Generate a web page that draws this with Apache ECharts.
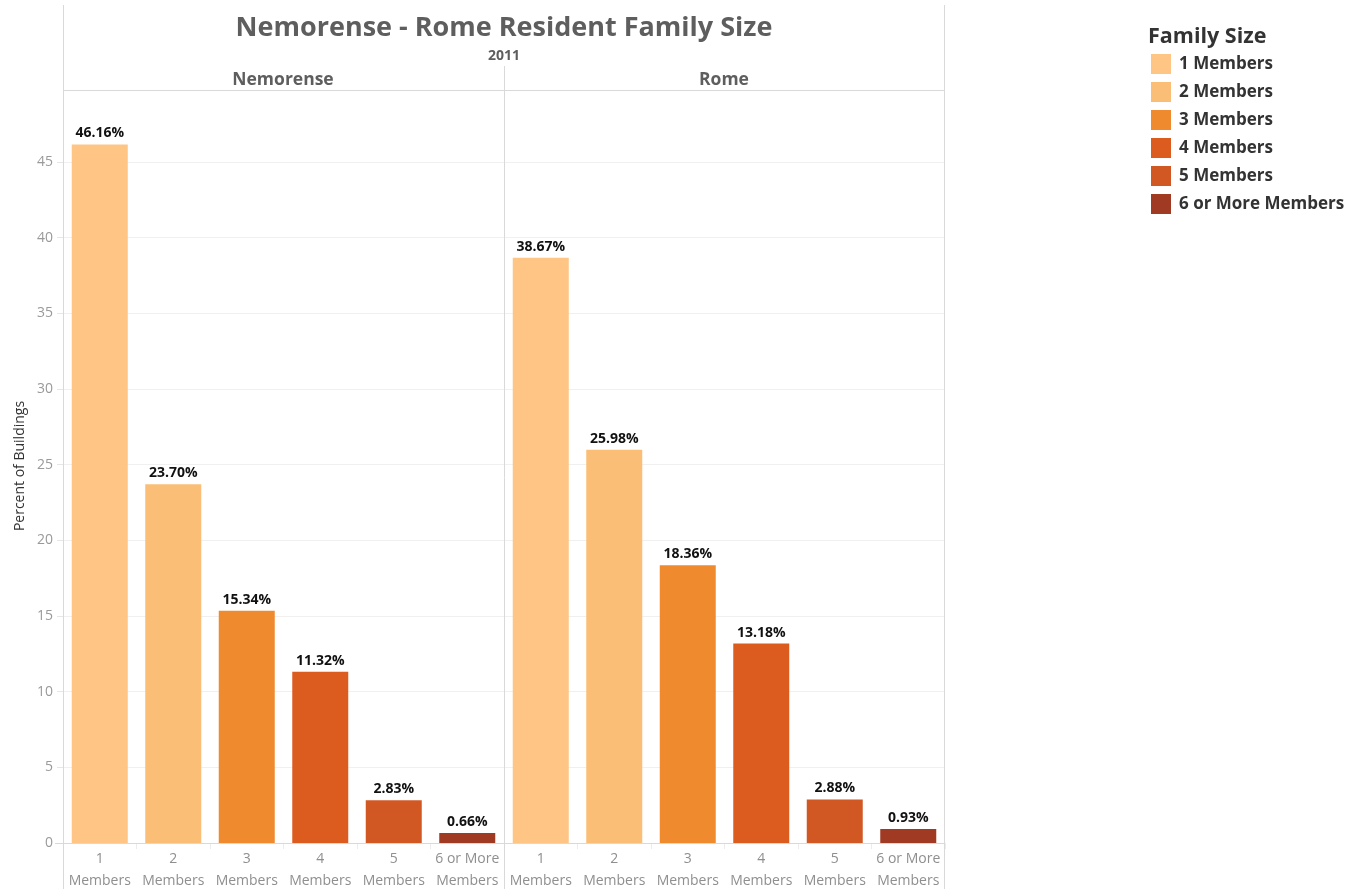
<!DOCTYPE html>
<html>
<head>
<meta charset="utf-8">
<script src="https://cdn.jsdelivr.net/npm/echarts@6/dist/echarts.min.js"></script>
<style>
  html, body { margin: 0; padding: 0; background: #fff; }
  #chart { width: 1368px; height: 889px; }
</style>
</head>
<body>
<div id="chart"></div>
<script>
// Family size categories and share of buildings (%), 2011
const categories = ['1 Members', '2 Members', '3 Members', '4 Members', '5 Members', '6 or More Members'];
const axisLabels = ['1\nMembers', '2\nMembers', '3\nMembers', '4\nMembers', '5\nMembers', '6 or More\nMembers'];
const panels = ['Nemorense', 'Rome'];
const nemorenseValues = [46.16, 23.70, 15.34, 11.32, 2.83, 0.66];
const romeValues = [38.67, 25.98, 18.36, 13.18, 2.88, 0.93];
const yTicks = [0, 5, 10, 15, 20, 25, 30, 35, 40, 45];
const colors = ['#FEC585', '#FBBE76', '#F08A2F', '#DC5C20', '#D25823', '#A03A23'];

const FONT = '"Open Sans", Lato, sans-serif';
const LINE = '#d9d9d9';
const HEAD = '#5e5e5e';

const chart = echarts.init(document.getElementById('chart'), null, { renderer: 'canvas' });

const panelValues = [nemorenseValues, romeValues];
const gridLeft = [63, 504];
const gridWidth = 441;

const grids = gridLeft.map(l => ({
  left: l, width: gridWidth, top: 90, bottom: 46,
  containLabel: false, outerBoundsMode: 'none'
}));

const xAxes = panels.map((p, i) => ({
  type: 'category',
  gridIndex: i,
  data: axisLabels,
  axisLine: { show: true, lineStyle: { color: LINE } },
  axisTick: { show: true, alignWithLabel: false, length: 6, lineStyle: { color: '#ececec' } },
  axisLabel: { color: '#8f8f8f', fontFamily: FONT, fontSize: 14, lineHeight: 22, margin: 5, interval: 0 }
}));

const yAxes = panels.map((p, i) => ({
  type: 'value',
  gridIndex: i,
  min: 0,
  max: 49.76,
  interval: 5,
  axisLine: { show: false },
  axisTick: { show: i === 0, length: 6, lineStyle: { color: '#e6e6e6' } },
  axisLabel: {
    show: i === 0,
    color: '#9a9a9a',
    fontFamily: FONT,
    fontSize: 14,
    margin: 10,
    showMaxLabel: false,
    formatter: v => (yTicks.indexOf(v) >= 0 ? String(v) : '')
  },
  splitLine: { show: true, lineStyle: { color: '#f0f0f0', width: 1 } }
}));

// one series per family size in each panel, overlapping so each category shows a single bar
const series = [];
panels.forEach((p, pi) => {
  categories.forEach((c, ci) => {
    const data = categories.map((_, k) => (k === ci ? panelValues[pi][k] : '-'));
    series.push({
      name: c,
      type: 'bar',
      xAxisIndex: pi,
      yAxisIndex: pi,
      data: data,
      barWidth: 56,
      barGap: '-100%',
      itemStyle: { color: colors[ci] },
      label: {
        show: true,
        position: 'top',
        distance: 4,
        color: '#111',
        fontFamily: FONT,
        fontWeight: 'bold',
        fontSize: 14,
        formatter: prm => prm.value.toFixed(2) + '%'
      },
      emphasis: { disabled: true }
    });
  });
});

function headText(text, x, y, size, color) {
  return {
    type: 'text', x: x, y: y, z: 20,
    style: {
      text: text, fill: color || HEAD, fontFamily: FONT, fontWeight: 'bold',
      fontSize: size, align: 'center', verticalAlign: 'middle'
    }
  };
}

const option = {
  backgroundColor: '#fff',
  animation: false,
  legend: {
    orient: 'vertical',
    left: 1146,
    top: 49,
    itemWidth: 20,
    itemHeight: 20,
    itemGap: 8,
    icon: 'rect',
    selectedMode: false,
    data: categories,
    textStyle: { color: '#333', fontFamily: FONT, fontWeight: 'bold', fontSize: 17, lineHeight: 20, padding: [0, 0, 0, 3] }
  },
  grid: grids,
  xAxis: xAxes,
  yAxis: yAxes,
  series: series,
  graphic: [
    headText('Nemorense - Rome Resident Family Size', 504, 28, 27),
    headText('2011', 504, 56, 14),
    headText(panels[0], 283, 80, 17.5),
    headText(panels[1], 724, 80, 17.5),
    {
      type: 'text', x: 1148, y: 37, z: 20,
      style: { text: 'Family Size', fill: '#333', fontFamily: FONT, fontWeight: 'bold', fontSize: 21.5, align: 'left', verticalAlign: 'middle' }
    },
    {
      type: 'text', x: 20, y: 466, rotation: Math.PI / 2, z: 20,
      style: { text: 'Percent of Buildings', fill: '#333', fontFamily: FONT, fontSize: 14, align: 'center', verticalAlign: 'middle' }
    },
    { type: 'line', shape: { x1: 63.5, y1: 5, x2: 63.5, y2: 889 }, style: { stroke: LINE, lineWidth: 1 }, z: 10 },
    { type: 'line', shape: { x1: 944.5, y1: 5, x2: 944.5, y2: 889 }, style: { stroke: LINE, lineWidth: 1 }, z: 10 },
    { type: 'line', shape: { x1: 504.5, y1: 66, x2: 504.5, y2: 889 }, style: { stroke: LINE, lineWidth: 1 }, z: 10 },
    { type: 'line', shape: { x1: 63, y1: 90.5, x2: 945, y2: 90.5 }, style: { stroke: LINE, lineWidth: 1 }, z: 10 },
    { type: 'line', shape: { x1: 55, y1: 843.5, x2: 945, y2: 843.5 }, style: { stroke: LINE, lineWidth: 1 }, z: 10 }
  ]
};

chart.setOption(option);
</script>
</body>
</html>
